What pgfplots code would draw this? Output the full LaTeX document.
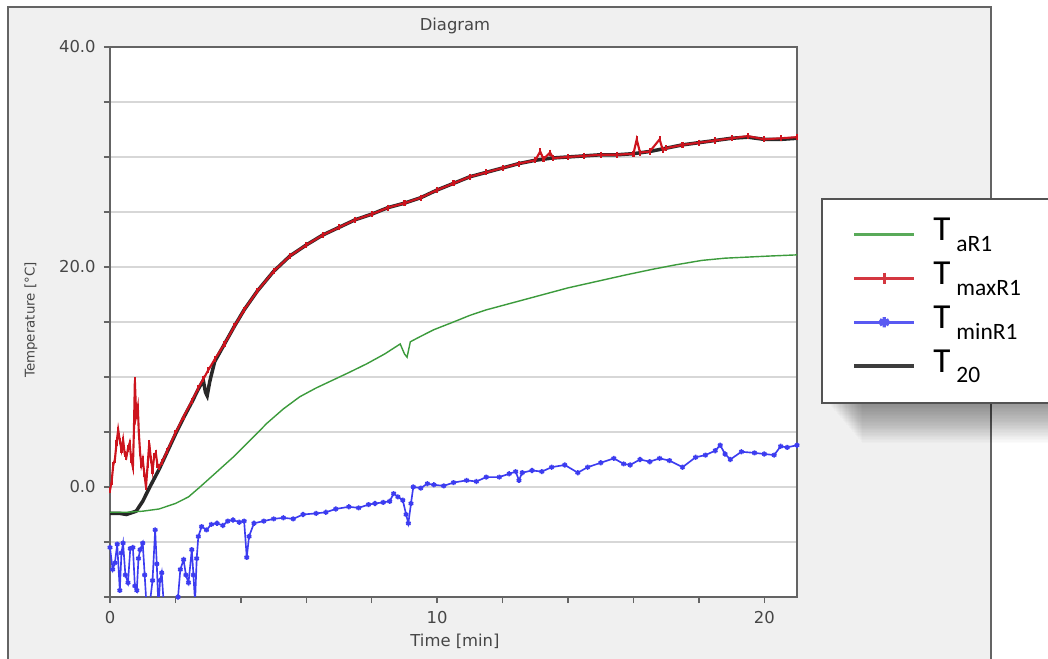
\documentclass[border=0pt]{standalone}
\usepackage{pgfplots}
\pgfplotsset{compat=1.18}
\usepackage{fontspec}
\setmainfont{DejaVu Sans}
\newfontfamily\legfont{Carlito}
\definecolor{panel}{RGB}{240,240,240}
\definecolor{panelborder}{RGB}{100,100,100}
\definecolor{txt}{RGB}{70,70,70}
\definecolor{tg}{RGB}{60,155,60}
\definecolor{tr}{RGB}{205,20,30}
\definecolor{tb}{RGB}{60,60,240}
\definecolor{tk}{RGB}{40,40,40}
\definecolor{gridc}{RGB}{215,215,215}
\newcommand{\legT}[1]{\hspace{6pt}{\legfont\fontsize{15}{15}\selectfont T}\hspace{2.5pt}\raisebox{-4.5pt}{\legfont\fontsize{10}{10}\selectfont #1}}
\begin{document}
\begin{tikzpicture}[x=0.015cm,y=0.015cm]
\useasboundingbox (0,0) rectangle (1048,659);
\fill[white] (0,0) rectangle (1048,659);
\filldraw[fill=panel, draw=panelborder, line width=0.8pt] (8,-10) rectangle (991,652);
% shadow and legend box
\foreach \i in {1,...,30} {\fill[black,opacity=0.015] ({826+1.2*\i},300) rectangle (1060,{258-1.4*\i});}
\filldraw[fill=white, draw=tk!80, line width=0.9pt] (822,256) rectangle (1070,460);
% texts
\node[txt, font=\fontsize{7}{8}\selectfont] at (455,633) {Diagram};
\node[txt, font=\fontsize{7}{8}\selectfont] at (455,18) {Time [min]};
\node[txt, font=\fontsize{5.7}{7}\selectfont, rotate=90] at (31,339) {Temperature [°C]};
\begin{scope}[x=1cm,y=1cm]
\begin{axis}[
  at={(1.65cm,0.93cm)}, anchor=south west,
  scale only axis, width=10.305cm, height=8.25cm,
  xmin=0, xmax=21, ymin=-10, ymax=40,
  axis background/.style={fill=white},
  axis line style={draw=panelborder, line width=0.9pt},
  xtick={0,2,...,20}, xticklabels={0,,,,,10,,,,,20},
  ytick={-10,-5,...,40}, yticklabels={,,0.0,,,,20.0,,,,40.0},
  tick align=outside, tick pos=left,
  major tick length=2.6pt,
  tick style={draw=panelborder, line width=0.6pt},
  ymajorgrids, major grid style={draw=gridc, line width=0.9pt},
  ticklabel style={font=\fontsize{7}{8}\selectfont, text=txt},
  legend image code/.code={\draw[mark repeat=2,mark phase=2,#1] plot coordinates {(0cm,0cm) (0.45cm,0cm) (0.9cm,0cm)};},
  legend style={at={(1.07,0.708)}, anchor=north west, draw=none, fill=none,
    row sep=0pt, nodes={inner sep=1.5pt, text height=10.5pt, text depth=5.2pt}},
  legend cell align=left,
]
% T20 (black)
\addplot[tk, line width=1.5pt, forget plot] coordinates {
(0,-2.4) (0.3,-2.4) (0.5,-2.5) (0.8,-2.2) (1.0,-1.3) (1.2,-0.1) (1.5,1.6) (1.75,3.2) (2.0,4.8)
(2.25,6.3) (2.5,7.7) (2.7,8.9) (2.85,9.7) (2.92,8.6) (2.97,8.3) (3.05,9.6) (3.2,11.4) (3.5,13.0)
(3.8,14.6) (4.1,16.1) (4.5,17.8) (5.0,19.6) (5.5,21.0) (6.0,22.0) (6.5,22.9) (7.0,23.6)
(7.5,24.3) (8.0,24.8) (8.5,25.4) (9.0,25.8) (9.5,26.3) (10.0,27.0) (10.5,27.6) (11.0,28.2)
(11.5,28.6) (12.0,29.0) (12.5,29.4) (13.0,29.7) (13.5,29.9) (14.0,30.0) (14.5,30.1) (15.0,30.2)
(15.5,30.2) (16.0,30.3) (16.5,30.5) (17.0,30.8) (17.5,31.1) (18.0,31.3) (18.5,31.5) (19.0,31.7)
(19.5,31.8) (20.0,31.6) (20.5,31.6) (21.0,31.7)};
% TaR1 (green)
\addplot[tg, line width=0.6pt, forget plot] coordinates {
(0,-2.3) (0.5,-2.3) (1.0,-2.2) (1.5,-2.0) (2.0,-1.5) (2.4,-0.9) (2.75,0.0) (3.2,1.2) (3.76,2.7)
(4.3,4.3) (4.8,5.8) (5.3,7.1) (5.8,8.2) (6.3,9.0) (6.8,9.7) (7.3,10.4) (7.85,11.2) (8.4,12.1)
(8.87,13.0) (9.0,12.1) (9.08,11.8) (9.18,13.2) (9.5,13.7) (9.9,14.3) (10.5,15.0) (11.0,15.6)
(11.5,16.1) (12.0,16.5) (12.5,16.9) (13.0,17.3) (13.5,17.7) (14.0,18.1) (14.6,18.5) (15.2,18.9)
(15.8,19.3) (16.6,19.8) (17.3,20.2) (18.1,20.6) (18.8,20.8) (19.5,20.9) (20.2,21.0) (21.0,21.1)};
% TmaxR1 (red)
\addplot[tr, line width=0.9pt, mark=|, mark size=1.3pt, forget plot] coordinates {
(0,-0.3) (0.05,0.5) (0.1,2.0) (0.15,2.5) (0.2,4.0) (0.25,5.2) (0.3,4.2) (0.35,3.4) (0.4,4.3)
(0.45,3.0) (0.5,2.7) (0.55,3.5) (0.6,4.0) (0.65,2.5) (0.7,1.8) (0.73,5.0) (0.76,9.7) (0.8,6.5)
(0.85,7.3) (0.88,5.0) (0.92,3.1) (0.96,2.0) (1.0,2.5) (1.05,1.2) (1.1,0.0) (1.15,2.0) (1.2,4.0)
(1.25,2.5) (1.3,1.5) (1.35,2.8) (1.4,3.1) (1.45,2.0) (1.5,1.8) (1.6,2.3) (1.75,3.3) (2.0,4.9)
(2.25,6.4) (2.5,7.8) (2.7,9.0) (2.85,9.8) (3.0,10.6) (3.2,11.6) (3.5,13.0) (3.8,14.6) (4.1,16.1)
(4.5,17.8) (5.0,19.6) (5.5,21.0) (6.0,22.0) (6.5,22.9) (7.0,23.6) (7.5,24.3) (8.0,24.8)
(8.5,25.4) (9.0,25.8) (9.5,26.3) (10.0,27.0) (10.5,27.6) (11.0,28.2) (11.5,28.6) (12.0,29.0)
(12.5,29.4) (13.0,29.7) (13.15,30.5) (13.25,29.8) (13.45,30.4) (13.55,29.9) (14.0,30.0)
(14.5,30.1) (15.0,30.2) (15.5,30.2) (16.0,30.3) (16.1,31.6) (16.2,30.4) (16.5,30.5) (16.8,31.6)
(16.9,30.6) (17.0,30.8) (17.5,31.1) (18.0,31.3) (18.5,31.5) (19.0,31.7) (19.5,31.9) (20.0,31.6)
(20.5,31.7) (21.0,31.8)};
% TminR1 (blue)
\addplot[tb, line width=0.7pt, mark=asterisk, mark size=1.1pt, forget plot] coordinates {
(0,-5.5) (0.08,-7.5) (0.15,-6.9) (0.22,-5.2) (0.3,-9.4) (0.35,-6.0) (0.4,-5.1) (0.47,-8.0)
(0.55,-8.7) (0.62,-5.6) (0.7,-5.5) (0.76,-9.0) (0.82,-9.4) (0.87,-6.5) (0.92,-5.7) (1.0,-5.1)
(1.06,-8.0) (1.12,-11) (1.2,-11) (1.3,-8.5) (1.38,-3.9) (1.43,-7.0) (1.48,-11) (1.53,-8.5)
(1.58,-7.8) (1.65,-11) (2.0,-11) (2.08,-10) (2.15,-7.5) (2.25,-6.6) (2.32,-8.0) (2.4,-8.7)
(2.5,-5.7) (2.55,-8.0) (2.6,-10.5) (2.65,-6.5) (2.7,-4.5) (2.8,-3.6) (2.95,-3.9) (3.1,-3.4)
(3.27,-3.3) (3.45,-3.5) (3.6,-3.1) (3.76,-3.0) (3.95,-3.2) (4.1,-3.1) (4.18,-6.4) (4.25,-4.5)
(4.4,-3.3) (4.7,-3.1) (5.0,-2.9) (5.3,-2.8) (5.6,-2.9) (5.9,-2.5) (6.3,-2.4) (6.6,-2.3)
(6.9,-2.0) (7.3,-1.8) (7.6,-1.9) (7.9,-1.6) (8.1,-1.5) (8.35,-1.4) (8.55,-1.3) (8.67,-0.6)
(8.8,-0.9) (8.95,-1.2) (9.05,-2.5) (9.12,-3.3) (9.2,-1.5) (9.27,0.0) (9.5,-0.1) (9.7,0.3)
(9.9,0.2) (10.2,0.1) (10.5,0.4) (10.9,0.6) (11.2,0.5) (11.5,0.9) (11.9,0.9) (12.2,1.2)
(12.4,1.4) (12.5,0.6) (12.6,1.3) (12.9,1.5) (13.2,1.4) (13.5,1.8) (13.9,2.0) (14.3,1.3)
(14.6,1.8) (15.0,2.2) (15.4,2.6) (15.7,2.1) (15.9,2.0) (16.2,2.5) (16.5,2.3) (16.8,2.6)
(17.1,2.4) (17.5,1.8) (17.9,2.7) (18.2,2.9) (18.5,3.3) (18.65,3.8) (18.8,3.0) (18.96,2.5)
(19.3,3.2) (19.7,3.1) (20.0,3.0) (20.3,2.9) (20.5,3.7) (20.7,3.6) (21.0,3.8)};
\addlegendimage{tg!85!white, line width=1.4pt}
\addlegendentry{\legT{aR1}}
\addlegendimage{tr!85!white, line width=1.4pt, mark=|, mark size=2.5pt}
\addlegendentry{\legT{maxR1}}
\addlegendimage{tb!85!white, line width=1.4pt, mark=asterisk, mark size=2.2pt}
\addlegendentry{\legT{minR1}}
\addlegendimage{tk!90!white, line width=1.4pt}
\addlegendentry{\legT{20}}
\end{axis}
\end{scope}
\end{tikzpicture}
\end{document}
